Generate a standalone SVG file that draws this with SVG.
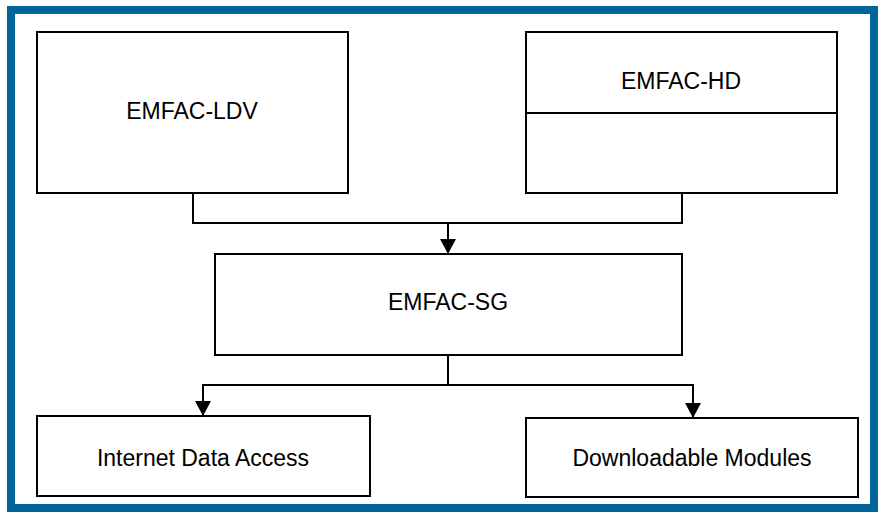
<svg xmlns="http://www.w3.org/2000/svg" width="883" height="514" viewBox="0 0 883 514">
<style>
.box{fill:#fff;stroke:#000;stroke-width:2}
.lbl{font-family:"Liberation Sans",Arial,sans-serif;font-size:23px;fill:#000;text-anchor:middle}
.conn{fill:none;stroke:#000;stroke-width:2}
</style>
<defs>
<marker id="arr" viewBox="0 0 15 16" refX="15" refY="8" markerWidth="15" markerHeight="16" orient="auto" markerUnits="userSpaceOnUse">
<path d="M0,0 L15,8 L0,16 Z" fill="#000"/>
</marker>
</defs>
<rect x="11" y="10" width="863" height="498" fill="#fff" stroke="#006699" stroke-width="8"/>
<g id="ldv"><rect class="box" x="37" y="32" width="311" height="161"/><text class="lbl" x="192" y="119">EMFAC-LDV</text></g>
<g id="hd"><rect class="box" x="526" y="32" width="311" height="161"/><line class="conn" x1="526" y1="113" x2="837" y2="113"/><text class="lbl" x="681" y="89">EMFAC-HD</text></g>
<g id="sg"><rect class="box" x="215" y="254" width="467" height="101"/><text class="lbl" x="448" y="310">EMFAC-SG</text></g>
<g id="ida"><rect class="box" x="37" y="416" width="333" height="80"/><text class="lbl" x="203" y="466">Internet Data Access</text></g>
<g id="dm"><rect class="box" x="526" y="418" width="332" height="79"/><text class="lbl" x="692" y="466">Downloadable Modules</text></g>
<g id="connectors">
<polyline class="conn" points="193,193 193,223 682,223 682,193"/>
<line class="conn" x1="448" y1="223" x2="448" y2="254" marker-end="url(#arr)"/>
<line class="conn" x1="448" y1="355" x2="448" y2="385"/>
<polyline class="conn" points="203,385 693,385"/>
<line class="conn" x1="203" y1="384" x2="203" y2="416" marker-end="url(#arr)"/>
<line class="conn" x1="693" y1="384" x2="693" y2="418" marker-end="url(#arr)"/>
</g>
</svg>
